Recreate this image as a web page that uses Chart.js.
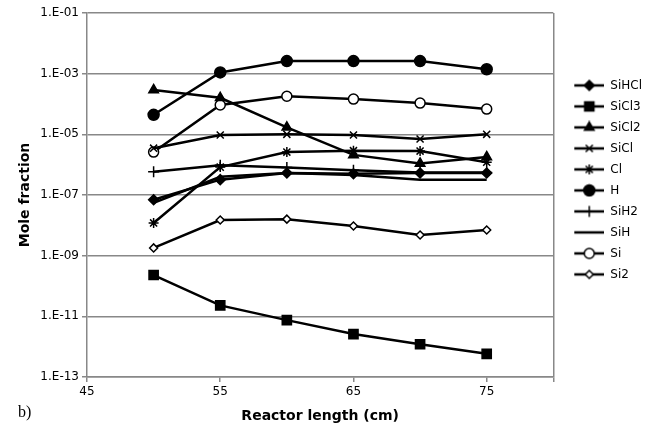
<meta charset="UTF-8">
<style>
  body { margin: 0; background: #fff; }
  #wrap { width: 654px; height: 427px; }
</style>
<div id="wrap"><canvas id="myChart"></canvas></div>

<script src="https://cdn.jsdelivr.net/npm/chart.js@4/dist/chart.umd.min.js"></script>

<script>
    // reactor positions (cm)
    var lengths = [50, 55, 60, 65, 70, 75];

    // mole fractions
    var SiHCl = [7.0e-8, 3.2e-7, 5.3e-7, 5.0e-7, 5.3e-7, 5.3e-7];
    var SiCl3 = [2.3e-10, 2.3e-11, 7.5e-12, 2.6e-12, 1.2e-12, 5.8e-13];
    var SiCl2 = [2.9e-4, 1.6e-4, 1.7e-5, 2.1e-6, 1.1e-6, 1.8e-6];
    var SiCl  = [3.5e-6, 9.5e-6, 1.0e-5, 9.5e-6, 7.0e-6, 1.0e-5];
    var Cl    = [1.2e-8, 8.3e-7, 2.6e-6, 2.9e-6, 2.8e-6, 1.2e-6];
    var H     = [4.4e-5, 1.1e-3, 2.6e-3, 2.6e-3, 2.6e-3, 1.4e-3];
    var SiH2  = [5.8e-7, 9.5e-7, 8.0e-7, 6.5e-7, 5.5e-7, 5.5e-7];
    var SiH   = [5.5e-8, 4.0e-7, 5.3e-7, 4.6e-7, 3.2e-7, 3.2e-7];
    var Si    = [2.6e-6, 9.3e-5, 1.8e-4, 1.45e-4, 1.07e-4, 6.8e-5];
    var Si2   = [1.8e-9, 1.5e-8, 1.6e-8, 9.5e-9, 4.8e-9, 7.0e-9];

    var yTicks = [1e-13, 1e-11, 1e-9, 1e-7, 1e-5, 1e-3, 1e-1];
    var xTicks = [45, 55, 65, 75, 80];

    var series = [
        {label: 'SiHCl', data: SiHCl, style: 'rectRot', fill: '#000', r: 5},
        {label: 'SiCl3', data: SiCl3, style: 'rect', fill: '#000', r: 6.5},
        {label: 'SiCl2', data: SiCl2, style: 'triangle', fill: '#000', r: 5.5},
        {label: 'SiCl', data: SiCl, style: 'crossRot', fill: '#000', r: 5},
        {label: 'Cl', data: Cl, style: 'star', fill: '#000', r: 5},
        {label: 'H', data: H, style: 'circle', fill: '#000', r: 5.5},
        {label: 'SiH2', data: SiH2, style: 'cross', fill: '#000', r: 5.5},
        {label: 'SiH', data: SiH, style: false, fill: '#000', r: 0},
        {label: 'Si', data: Si, style: 'circle', fill: '#fff', r: 5},
        {label: 'Si2', data: Si2, style: 'rectRot', fill: '#fff', r: 4}
    ];

    // small line+marker picture for the legend (12px blank on the left as a gap)
    function legendIcon(s) {
        var c = document.createElement('canvas');
        c.width = 42; c.height = 14;
        var g = c.getContext('2d');
        g.strokeStyle = '#000';
        g.lineWidth = 2.5;
        g.beginPath(); g.moveTo(12, 7); g.lineTo(42, 7); g.stroke();
        if (s.style) {
            g.fillStyle = s.fill;
            g.lineWidth = 1.5;
            Chart.helpers.drawPoint(g, {pointStyle: s.style, radius: s.r, borderWidth: 1.5, rotation: 0}, 27, 7);
        }
        return c;
    }

    var datasets = series.map(function (s) {
        return {
            label: s.label,
            data: lengths.map(function (x, i) { return {x: x, y: s.data[i]}; }),
            borderColor: '#000',
            backgroundColor: s.fill,
            borderWidth: 2.5,
            pointStyle: s.style,
            pointRadius: s.r,
            pointBorderColor: '#000',
            pointBackgroundColor: s.fill,
            pointBorderWidth: 1.5,
            tension: 0,
            icon: legendIcon(s)
        };
    });

    var fontFamily = '"DejaVu Sans", Verdana, sans-serif';

    var bLabel = {
        id: 'bLabel',
        afterDraw: function (chart) {
            var ctx = chart.ctx;
            ctx.save();
            ctx.fillStyle = '#000';
            ctx.font = '16px "Liberation Serif", serif';
            ctx.textBaseline = 'middle';
            ctx.fillText('b)', 18, 413);
            ctx.restore();
        }
    };

    var ctx = document.getElementById('myChart').getContext('2d');
    var chart = new Chart(ctx, {
        type: 'line',
        data: {datasets: datasets},
        plugins: [bLabel],
        options: {
            responsive: true,
            maintainAspectRatio: false,
            animation: false,
            layout: {padding: {top: 13, left: 0, right: 2, bottom: 0}},
            plugins: {
                tooltip: {enabled: false},
                legend: {
                    position: 'right',
                    align: 'start',
                    title: {
                        display: true,
                        text: ' ',
                        font: {family: fontFamily, size: 12},
                        padding: {top: 43, bottom: 0}
                    },
                    labels: {
                        usePointStyle: true,
                        pointStyleWidth: 42,
                        boxHeight: 12,
                        padding: 9,
                        color: '#000',
                        font: {family: fontFamily, size: 12},
                        generateLabels: function (chart) {
                            var items = Chart.defaults.plugins.legend.labels.generateLabels(chart);
                            items.forEach(function (it) {
                                it.pointStyle = chart.data.datasets[it.datasetIndex].icon;
                            });
                            return items;
                        }
                    }
                }
            },
            scales: {
                x: {
                    type: 'linear',
                    min: 45,
                    max: 80,
                    afterFit: function (scale) { scale.height = 50; },
                    afterBuildTicks: function (scale) {
                        scale.ticks = xTicks.map(function (v) { return {value: v}; });
                    },
                    ticks: {
                        color: '#000',
                        font: {family: fontFamily, size: 12},
                        maxRotation: 0,
                        callback: function (v) { return v === 80 ? '' : String(v); }
                    },
                    grid: {
                        color: function (c) { return c.tick && c.tick.value === 80 ? '#888' : 'rgba(0,0,0,0)'; },
                        tickColor: '#888',
                        tickLength: 5,
                        lineWidth: 1.5
                    },
                    border: {color: '#888', width: 1.5},
                    title: {
                        display: true,
                        text: 'Reactor length (cm)',
                        color: '#000',
                        font: {family: fontFamily, size: 14, weight: 'bold'},
                        padding: {top: 0, bottom: 2}
                    }
                },
                y: {
                    type: 'logarithmic',
                    min: 1e-13,
                    max: 1e-1,
                    afterFit: function (scale) { scale.width = 87; },
                    afterBuildTicks: function (scale) {
                        scale.ticks = yTicks.map(function (v) { return {value: v}; });
                    },
                    ticks: {
                        color: '#000',
                        font: {family: fontFamily, size: 12},
                        callback: function (v) {
                            var e = Math.round(Math.log10(v));
                            return '1.E' + (e < 0 ? '-' : '+') + String(Math.abs(e)).padStart(2, '0');
                        }
                    },
                    grid: {
                        color: '#888',
                        tickColor: '#888',
                        tickLength: 5,
                        lineWidth: 1.5
                    },
                    border: {color: '#888', width: 1.5},
                    title: {
                        display: true,
                        text: 'Mole fraction',
                        color: '#000',
                        font: {family: fontFamily, size: 14, weight: 'bold'},
                        padding: {top: 17, bottom: 0}
                    }
                }
            }
        }
    });
</script>
